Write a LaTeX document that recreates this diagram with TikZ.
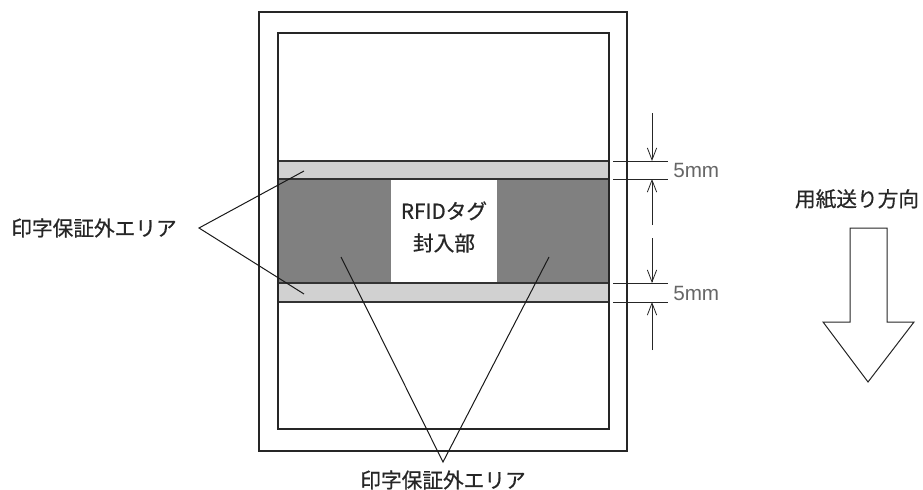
\documentclass[tikz,border=0pt]{standalone}
\usepackage{fontspec}
\setmainfont{Noto Sans CJK JP}[FakeBold=0.6]
\newfontfamily\latinfont{Liberation Sans}
\usetikzlibrary{
  arrows.meta,   % 尺寸线箭头
  calc,          % 坐标计算
  positioning    % 节点相对定位
}
\tikzset{
  frame line/.style={
    draw=black!85,
    line width=1.5pt
  },
  light band/.style={
    fill=black!18,
    draw=black!80,
    line width=0.8pt
  },
  dark area/.style={
    fill=black!50
  },
  leader/.style={
    draw=black!90,
    line width=0.75pt
  },
  dim line/.style={
    draw=black!85,
    line width=0.6pt
  },
  dim arrow/.style={
    -{Straight Barb[length=9pt,width=7pt]},
    draw=black!85,
    line width=0.6pt
  },
  jp label/.style={
    font=\fontsize{15.5pt}{24pt}\selectfont,
    text=black!85,
    inner sep=1pt
  },
  dim label/.style={
    font=\latinfont\fontsize{15.5pt}{18pt}\selectfont,
    text=black!60,
    inner sep=0pt
  }
}

\begin{document}
\begin{tikzpicture}[x=0.75pt, y=-0.75pt] % 以像素为单位，y 轴向下
  \useasboundingbox (0,0) rectangle (923,489); % 固定画面大小

  % 用纸外框与内框
  \draw[frame line] (259,12) rectangle (627,451); % 外框（台纸）
  \draw[frame line] (278,33) rectangle (609,429); % 内框（标签）

  % 印字保证外区域
  \fill[dark area] (278,179) rectangle (609,283); % 深灰区域
  \fill[white] (391,179) rectangle (497,283);     % 中央 RFID 封入部
  \draw[light band] (278,161) rectangle (609,179); % 上方 5mm 浅灰带
  \draw[light band] (278,283) rectangle (609,302); % 下方 5mm 浅灰带
  \draw[frame line] (278,150) -- (278,310);        % 补画内框左边
  \draw[frame line] (609,150) -- (609,310);        % 补画内框右边

  % RFID 标签文字
  \node[jp label, align=center] (tag) at (444,227) {RFIDタグ\\封入部};

  % 左侧标注
  \node[jp label] (leftlabel) at (94,228) {印字保証外エリア};
  \coordinate (lv) at (199,228);    % 左侧引线交点
  \coordinate (lt) at (304,171);    % 指向上方浅灰带
  \coordinate (lb) at (304,294);    % 指向下方浅灰带
  \draw[leader] (lt) -- (lv) -- (lb);

  % 下方标注
  \node[jp label] (botlabel) at (443,480) {印字保証外エリア};
  \coordinate (bv) at (443,462);    % 下方引线交点
  \coordinate (bl) at (341,257);    % 指向左侧深灰区
  \coordinate (br) at (549,257);    % 指向右侧深灰区
  \draw[leader] (bl) -- (bv) -- (br);

  % 尺寸线（上）
  \draw[dim line] (613,161) -- (668,161);
  \draw[dim line] (613,179) -- (668,179);
  \draw[dim arrow] (652,113) -- (652,161);
  \draw[dim arrow] (652,225) -- (652,179);
  \node[dim label, anchor=west] (dimtop) at (673,170) {5mm};

  % 尺寸线（下）
  \draw[dim line] (613,283) -- (668,283);
  \draw[dim line] (613,302) -- (668,302);
  \draw[dim arrow] (652,238) -- (652,283);
  \draw[dim arrow] (652,350) -- (652,302);
  \node[dim label, anchor=west] (dimbot) at (673,293) {5mm};

  % 用纸送出方向
  \node[jp label] (feedlabel) at (857,199) {用紙送り方向};
  \draw[draw=black!85, line width=0.75pt, fill=white]
    (850,228) -- (887,228) -- (887,322) -- (914,322) -- (868,382)
    -- (823,322) -- (850,322) -- cycle; % 空心下箭头
\end{tikzpicture}
\end{document}
